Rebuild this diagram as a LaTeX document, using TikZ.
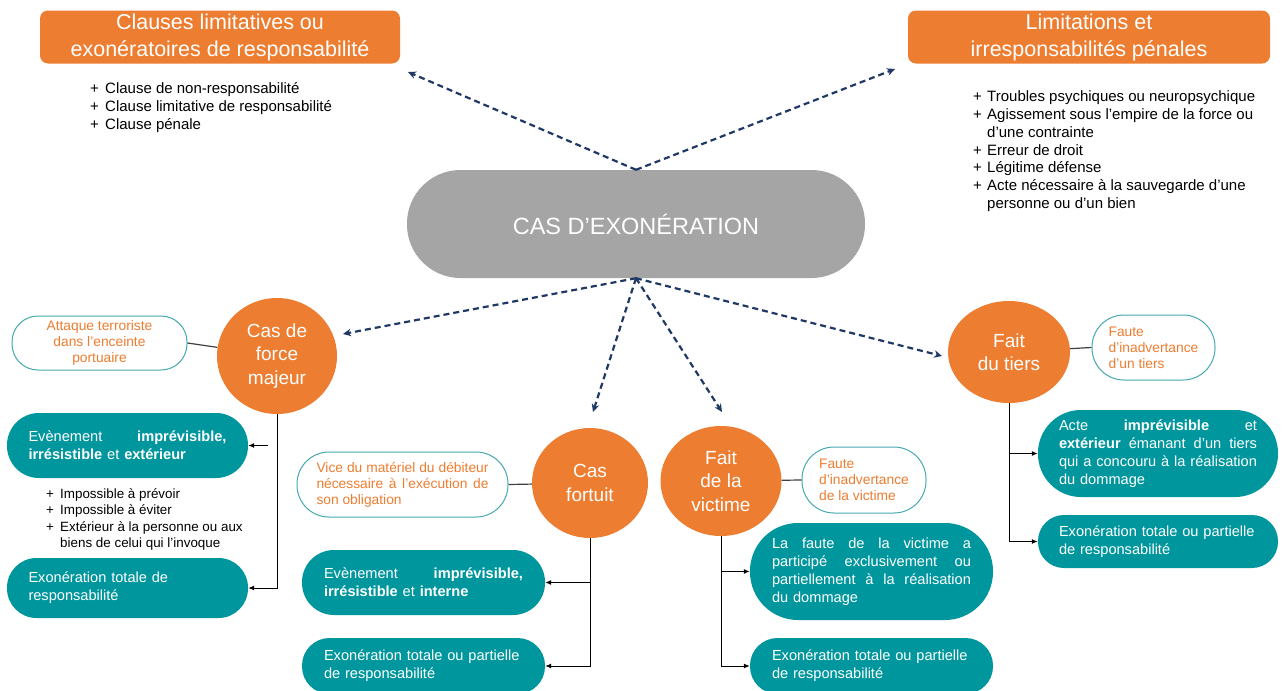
\documentclass[tikz,border=0pt]{standalone}
\usepackage{fontspec}
\setmainfont{Liberation Sans}
\usetikzlibrary{arrows.meta,shapes.geometric,calc}
\definecolor{orC}{RGB}{237,125,49}
\definecolor{tlC}{RGB}{0,150,157}
\definecolor{tlB}{RGB}{70,170,176}
\definecolor{grC}{RGB}{165,165,165}
\definecolor{nvC}{RGB}{31,56,100}
\definecolor{lnC}{RGB}{64,64,64}
\newcommand{\jline}[2]{\makebox[#1][s]{\spaceskip=.278em plus 1fil\relax\xspaceskip=\spaceskip #2}}
\newcommand{\bul}[1]{\makebox[#1][l]{+}}
\begin{document}
\begin{tikzpicture}[x=1pt,y=-1pt,
  hdr/.style={fill=orC, text=white, rounded corners=8pt, minimum width=360, minimum height=53, align=center, font=\fontsize{21.5}{27}\selectfont, inner sep=0},
  tbox/.style={fill=tlC, text=white, align=left, font=\fontsize{14.6}{18}\selectfont, inner ysep=0, inner xsep=22, text width=199},
  obox/.style={fill=white, draw=tlB, line width=1pt, text=orC, font=\fontsize{13.8}{16}\selectfont, inner ysep=0, inner xsep=0},
  circ/.style={ellipse, fill=orC, text=white, align=center, font=\fontsize{19}{23.5}\selectfont, inner sep=0},
  dsh/.style={draw=nvC, line width=2.2pt, dash pattern=on 6pt off 4pt, -{Stealth[length=8pt,width=7.5pt]}},
  lnk/.style={draw=lnC, line width=1.2pt},
  tre/.style={draw=black, line width=1pt, -{Latex[length=6pt,width=5pt]}},
  blist/.style={anchor=north west, inner sep=0, align=left, font=\fontsize{15}{17.8}\selectfont}
]
\fill[white] (0,0) rectangle (1283,691);
\useasboundingbox (0,0) rectangle (1283,691);

% headers
\node[hdr] (h1) at (220,37) {Clauses limitatives ou\\exonératoires de responsabilité};
\node[hdr, minimum width=362] (h2) at (1089,37) {Limitations et\\irresponsabilités pénales};

% bullet lists
\node[blist] (l1) at (90,81) {\strut\bul{15pt}Clause de non-responsabilité\\ \bul{15pt}Clause limitative de responsabilité\\ \bul{15pt}Clause pénale};
\node[blist] (l2) at (973,89) {\strut\bul{14pt}Troubles psychiques ou neuropsychique\\ \bul{14pt}Agissement sous l’empire de la force ou\\ \hspace*{14pt}d’une contrainte\\ \bul{14pt}Erreur de droit\\ \bul{14pt}Légitime défense\\ \bul{14pt}Acte nécessaire à la sauvegarde d’une\\ \hspace*{14pt}personne ou d’un bien};
\node[blist, font=\fontsize{13.4}{16.5}\selectfont] (l3) at (46,486.3) {\strut\bul{14pt}Impossible à prévoir\\ \bul{14pt}Impossible à éviter\\ \bul{14pt}Extérieur à la personne ou aux\\ \hspace*{14pt}biens de celui qui l’invoque};

% center
\node[fill=grC, text=white, rounded corners=53.5pt, minimum width=458, minimum height=108, font=\fontsize{23.5}{28}\selectfont, inner sep=0] (cex) at (636,224) {CAS D’EXONÉRATION};

% circles
\node[circ, minimum width=120, minimum height=116] (fm) at (277,356) {Cas de\\force\\majeur};
\node[circ, minimum width=116, minimum height=110] (cf) at (590,483) {Cas\\fortuit};
\node[circ, minimum width=121, minimum height=110] (fvc) at (721,481) {Fait\\de la\\victime};
\node[circ, minimum width=122, minimum height=102] (ft) at (1009,352) {Fait\\du tiers};

% outline boxes
\node[obox, rounded corners=26pt, minimum width=175, minimum height=54, align=center] (att) at (99.5,343) {Attaque terroriste\\dans l’enceinte\\portuaire};
\node[obox, rounded corners=32pt, minimum width=211, minimum height=65, align=left] (vice) at (402.5,484.5) {\jline{172pt}{Vice du matériel du débiteur}\\\jline{172pt}{nécessaire à l’exécution de}\\son obligation};
\node[obox, rounded corners=32pt, minimum width=124, minimum height=66, align=left] (fiv) at (864,480) {Faute\\d’inadvertance\\de la victime};
\node[obox, rounded corners=32pt, minimum width=123, minimum height=65, align=left] (fit) at (1153.5,347.5) {Faute\\d’inadvertance\\d’un tiers};

% teal boxes
\node[tbox, minimum height=65, rounded corners=32pt, inner xsep=21.5, text width=198] (ev1) at (127.5,445.5) {\jline{198pt}{Evènement \textbf{imprévisible,}}\\\mbox{\textbf{irrésistible} et \textbf{extérieur}}};
\node[tbox, minimum height=60, rounded corners=29.5pt, inner xsep=21.5, text width=198] (ex1) at (127.5,588) {Exonération totale de\\responsabilité};
\node[tbox, minimum height=65, rounded corners=32pt] (ev2) at (423.5,582.5) {\jline{199pt}{Evènement \textbf{imprévisible,}}\\\mbox{\textbf{irrésistible} et \textbf{interne}}};
\node[tbox, minimum height=56, rounded corners=27.5pt] (ex2) at (423.5,666) {\mbox{Exonération totale ou partielle}\\de responsabilité};
\node[tbox, minimum height=97, rounded corners=48pt] (fv) at (871.5,571.5) {\jline{199pt}{La faute de la victime a}\\\jline{199pt}{participé exclusivement ou}\\\jline{199pt}{partiellement à la réalisation}\\du dommage};
\node[tbox, minimum height=56, rounded corners=27.5pt] (ex3) at (871.5,666) {\mbox{Exonération totale ou partielle}\\de responsabilité};
\node[tbox, minimum height=87, rounded corners=43pt, inner xsep=21, text width=198] (acte) at (1158,453.5) {\jline{198pt}{Acte \textbf{imprévisible} et}\\\jline{198pt}{\textbf{extérieur} émanant d’un tiers}\\\jline{198pt}{qui a concouru à la réalisation}\\du dommage};
\node[tbox, minimum height=53, rounded corners=26pt, inner xsep=21, text width=198] (ex4) at (1158,541.5) {\mbox{Exonération totale ou partielle}\\de responsabilité};

% dashed arrows
\coordinate (a1) at (408,72);
\coordinate (a2) at (895,69);
\coordinate (a3) at (343,334);
\coordinate (a4) at (593,412);
\coordinate (a5) at (722,412);
\coordinate (a6) at (942,356);
\draw[dsh] (cex.north) -- (a1);
\draw[dsh] (cex.north) -- (a2);
\draw[dsh] (cex.south) -- (a3);
\draw[dsh] (cex.south) -- (a4);
\draw[dsh] (cex.south) -- (a5);
\draw[dsh] (cex.south) -- (a6);

% links
\draw[lnk] (att.east) -- (fm);
\draw[lnk] (vice.east) -- (cf);
\draw[lnk] (fvc) -- (fiv.west);
\draw[lnk] (ft) -- (fit.west);

% tree connectors
\draw[tre] (fm.south) |- (ex1.east);
\draw[tre] ($(fm.south |- ev1.east)+(-9,0)$) -- (ev1.east);
\draw[tre] (cf.south) |- (ex2.east);
\draw[tre] (cf.south |- ev2.east) -- (ev2.east);
\draw[tre] (fvc.south) |- (ex3.west);
\draw[tre] (fvc.south |- fv.west) -- (fv.west);
\draw[tre] (ft.south) |- (ex4.west);
\draw[tre] (ft.south |- acte.west) -- (acte.west);
\end{tikzpicture}
\end{document}
